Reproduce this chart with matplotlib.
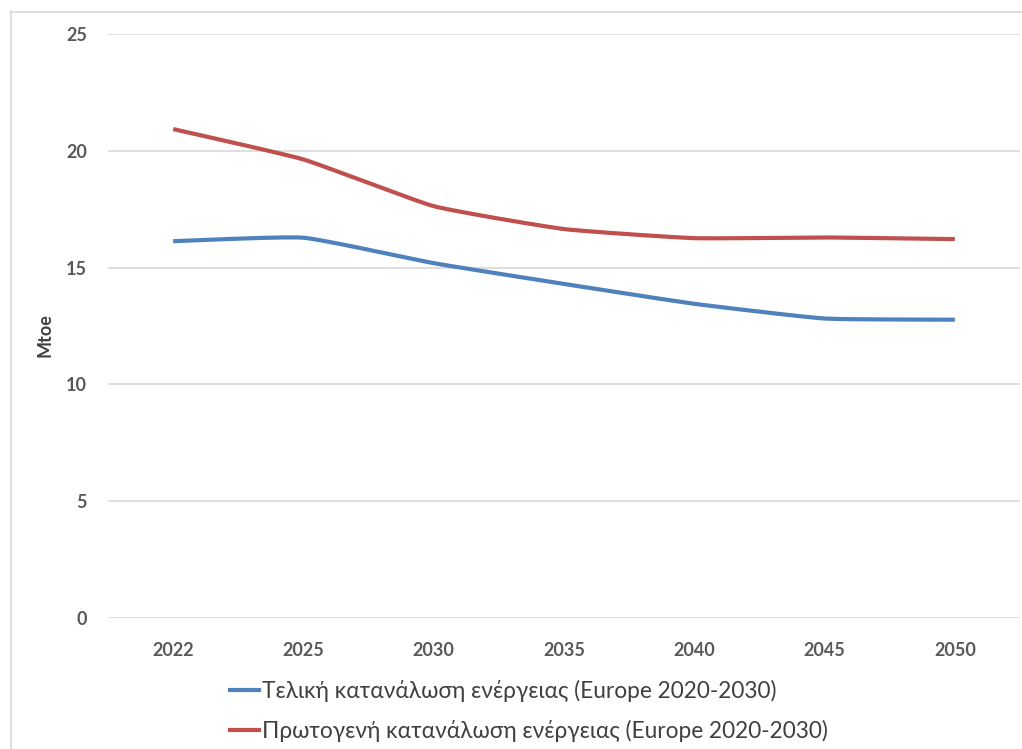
import numpy as np
import matplotlib
matplotlib.use("Agg")
import matplotlib.pyplot as plt
from matplotlib.lines import Line2D

years = ["2022", "2025", "2030", "2035", "2040", "2045", "2050"]
final_energy = [16.13, 16.28, 15.19, 14.30, 13.45, 12.82, 12.77]
primary_energy = [20.93, 19.63, 17.63, 16.65, 16.26, 16.29, 16.22]
series_names = ["Τελική κατανάλωση ενέργειας (Europe 2020-2030)",
                "Πρωτογενή κατανάλωση ενέργειας (Europe 2020-2030)"]
y_ticks = [0, 5, 10, 15, 20, 25]

plt.rcParams['font.family'] = ['Lato', 'DejaVu Sans']

def smooth(xs, ys, n=30, k=14.0):
    xs = np.asarray(xs, float)
    ys = np.asarray(ys, float)
    px = np.concatenate([[xs[0]], xs, [xs[-1]]])
    py = np.concatenate([[ys[0]], ys, [ys[-1]]])
    ox, oy = [], []
    t = np.linspace(0, 1, n)
    for i in range(1, len(px) - 2):
        for arr, out in ((px, ox), (py, oy)):
            p0, p1, p2, p3 = arr[i - 1], arr[i], arr[i + 1], arr[i + 2]
            c1 = p1 + (p2 - p0) / k
            c2 = p2 - (p3 - p1) / k
            seg = ((1 - t) ** 3 * p1 + 3 * (1 - t) ** 2 * t * c1
                   + 3 * (1 - t) * t ** 2 * c2 + t ** 3 * p2)
            out.extend(seg if i == 1 else seg[1:])
    return np.array(ox), np.array(oy)

W, H = 1022, 749
fig = plt.figure(figsize=(W / 100, H / 100), dpi=100)
ax = fig.add_axes([108 / W, 1 - 618 / H, (1020 - 108) / W, (618 - 34) / H])

x = np.arange(len(years))
blue = "#4F81BD"
red = "#C0504D"
for vals, col in ((final_energy, blue), (primary_energy, red)):
    sx, sy = smooth(x, vals)
    ax.plot(sx, sy, color=col, lw=3.0, solid_capstyle='butt', zorder=3)

ax.set_xlim(-0.5, len(years) - 0.5)
ax.set_ylim(0, 25)
ax.set_yticks(y_ticks)
ax.set_xticks(x)
ax.set_xticklabels(years)
ax.grid(axis='y', color='#D9D9D9', lw=1.2)
ax.set_axisbelow(True)
for s in ax.spines.values():
    s.set_visible(False)
ax.tick_params(length=0, labelsize=13, colors='#595959')
ax.tick_params(axis='y', pad=15)
ax.tick_params(axis='x', pad=17)
for lab in ax.get_xticklabels() + ax.get_yticklabels():
    lab.set_fontweight('bold')
ax.set_ylabel("Mtoe", fontsize=13, fontweight='bold', color='#404040')
ax.yaxis.set_label_coords((54 - 108) / (1020 - 108), (618 - 335) / (618 - 34))

handles = [Line2D([], [], color=blue, lw=3.0), Line2D([], [], color=red, lw=3.0)]
fig.legend(handles, series_names, loc='center left',
           bbox_to_anchor=(221 / W, 1 - 711 / H), frameon=False,
           fontsize=16.3, handlelength=1.3, handletextpad=0.1,
           labelspacing=0.8, labelcolor='#404040', borderaxespad=0)

# outer chart frame
fig.add_artist(Line2D([10.5 / W, 10.5 / W], [1 - 11 / H, 0], transform=fig.transFigure,
                      color='#D9D9D9', lw=1.2))
fig.add_artist(Line2D([10 / W, 1], [1 - 11.5 / H, 1 - 11.5 / H], transform=fig.transFigure,
                      color='#D9D9D9', lw=1.2))

fig.savefig("out.png", dpi=100, facecolor='white')
